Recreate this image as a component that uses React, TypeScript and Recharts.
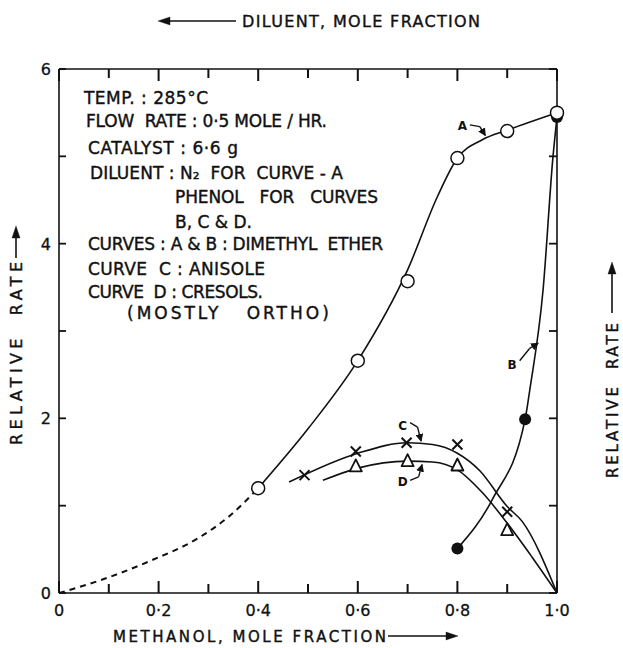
import React from "react";
import {
  ComposedChart,
  Line,
  Scatter,
  XAxis,
  YAxis,
  ReferenceLine,
  ReferenceDot,
} from "recharts";

// axes
const methanolTicks = [0, 0.1, 0.2, 0.3, 0.4, 0.5, 0.6, 0.7, 0.8, 0.9, 1.0];
const methanolLabels = ["0", "", "0·2", "", "0·4", "", "0·6", "", "0·8", "", "1·0"];
const diluentLabels = ["1·0", "", "0·8", "", "0·6", "", "0·4", "", "0·2", "", "0"];
const rateTicks = [0, 1, 2, 3, 4, 5, 6];
const rateLabels = ["0", "", "2", "", "4", "", "6"];

// curve A: dimethyl ether, N2 diluent (open circles)
const aPointX = [0.4, 0.6, 0.7, 0.8, 0.9, 1.0];
const aPointY = [1.2, 2.66, 3.57, 4.98, 5.29, 5.5];
const aLineX = [0.4, 0.5, 0.6, 0.7, 0.76, 0.8, 0.85, 0.9, 1.0];
const aLineY = [1.2, 1.88, 2.66, 3.7, 4.54, 4.98, 5.19, 5.3, 5.5];
const aDashX = [0, 0.08, 0.18, 0.28, 0.34, 0.4];
const aDashY = [0, 0.14, 0.36, 0.63, 0.87, 1.2];

// curve B: dimethyl ether, phenol diluent (filled circles)
const bPointX = [0.8, 0.936, 1.0];
const bPointY = [0.51, 1.99, 5.45];
const bLineX = [0.8, 0.87, 0.936, 0.946, 0.972, 0.992, 1.0];
const bLineY = [0.51, 1.07, 1.99, 2.35, 3.47, 5.0, 5.45];

// curve C: anisole (crosses)
const cPointX = [0.493, 0.596, 0.698, 0.8, 0.9];
const cPointY = [1.35, 1.62, 1.72, 1.7, 0.93];
const cLineX = [0.462, 0.6, 0.7, 0.75, 0.8, 0.845, 0.9, 0.93, 1.0];
const cLineY = [1.27, 1.6, 1.72, 1.7, 1.6, 1.4, 0.99, 0.82, 0];

// curve D: cresols (triangles)
const dPointX = [0.596, 0.7, 0.8, 0.9];
const dPointY = [1.45, 1.51, 1.46, 0.72];
const dLineX = [0.53, 0.6, 0.7, 0.75, 0.8, 0.85, 0.9, 0.95, 1.0];
const dLineY = [1.29, 1.43, 1.51, 1.5, 1.41, 1.15, 0.8, 0.41, 0];

// curve letters and their pointer arrows
const tagLetters = ["A", "B", "C", "D"];
const tagX = [0.81, 0.91, 0.69, 0.69];
const tagY = [5.35, 2.61, 1.92, 1.27];
const tagArrows = [
  [[0.825, 5.36], [0.845, 5.34], [0.856, 5.24]],
  [[0.925, 2.66], [0.945, 2.8], [0.962, 2.86]],
  [[0.705, 1.95], [0.72, 1.9], [0.727, 1.74]],
  [[0.705, 1.29], [0.722, 1.33], [0.729, 1.47]],
];

const zip = (xs: number[], ys: number[]) => xs.map((x, i) => ({ x, y: ys[i] }));

const FONT = "DejaVu Sans";
const INK = "#111";
// plot box (same as the chart margins + axis sizes)
const PLOT = { left: 59, right: 557, top: 69, bottom: 593 };
const PX_X = 1 / (PLOT.right - PLOT.left);
const PX_Y = 6 / (PLOT.bottom - PLOT.top);

const makeLabel =
  (labels: string[], anchor: "middle" | "start" | "end") => (props: any) => {
    const label = labels[props.index];
    if (!label) return <g />;
    return (
      <text
        x={props.x}
        y={props.y + 6}
        textAnchor={anchor}
        fontSize={16}
        fontFamily={FONT}
        fill={INK}
        stroke={INK}
        strokeWidth={0.3}
      >
        {label}
      </text>
    );
  };

const OpenCircle = (p: any) => (
  <circle cx={p.cx} cy={p.cy} r={6.5} fill="#fff" stroke={INK} strokeWidth={1.5} />
);
const FilledCircle = (p: any) => <circle cx={p.cx} cy={p.cy} r={6} fill={INK} />;
const CrossMark = (p: any) => (
  <g stroke={INK} strokeWidth={2}>
    <line x1={p.cx - 5} y1={p.cy - 5} x2={p.cx + 5} y2={p.cy + 5} />
    <line x1={p.cx - 5} y1={p.cy + 5} x2={p.cx + 5} y2={p.cy - 5} />
  </g>
);
const TriangleMark = (p: any) => (
  <polygon
    points={`${p.cx},${p.cy - 7} ${p.cx - 6},${p.cy + 5} ${p.cx + 6},${p.cy + 5}`}
    fill="#fff"
    stroke={INK}
    strokeWidth={1.8}
    strokeLinejoin="round"
  />
);

const noteLines = [
  { t: "TEMP. : 285°C", x: 84, y: 104, w: 124 },
  { t: "FLOW  RATE : 0·5 MOLE / HR.", x: 86, y: 127, w: 241 },
  { t: "CATALYST : 6·6 g", x: 88, y: 154, w: 150 },
  { t: "DILUENT : N₂  FOR  CURVE - A", x: 90, y: 179, w: 253 },
  { t: "PHENOL   FOR   CURVES", x: 175, y: 203, w: 203 },
  { t: "B, C & D.", x: 175, y: 228, w: 77 },
  { t: "CURVES : A & B : DIMETHYL  ETHER", x: 88, y: 250, w: 295 },
  { t: "CURVE  C : ANISOLE", x: 88, y: 275, w: 177 },
  { t: "CURVE  D : CRESOLS.", x: 88, y: 298, w: 175 },
  { t: "(MOSTLY   ORTHO)", x: 127, y: 319, w: 0 },
];

const pre = { whiteSpace: "pre" as const };

export default function App() {
  const line = (key: string, xs: number[], ys: number[], dash?: string) => (
    <Line
      key={key}
      xAxisId="bottom"
      yAxisId="left"
      data={zip(xs, ys)}
      dataKey="y"
      type="monotone"
      stroke={INK}
      strokeWidth={dash ? 2 : 1.6}
      strokeDasharray={dash}
      dot={false}
      activeDot={false}
      isAnimationActive={false}
    />
  );

  const seg = (key: string, x1: number, y1: number, x2: number, y2: number, extra: any = {}) => (
    <ReferenceLine
      key={key}
      xAxisId="bottom"
      yAxisId="left"
      segment={[
        { x: x1, y: y1 },
        { x: x2, y: y2 },
      ]}
      stroke={INK}
      strokeWidth={1.8}
      ifOverflow="visible"
      {...extra}
    />
  );

  // horizontal tick positions along the x axes, same linear map as the chart
  const tickPx = (v: number) => PLOT.left + v / PX_X;

  return (
    <div style={{ position: "relative", width: 623, height: 648, background: "#fff" }}>
      <style>{"body{margin:0}"}</style>
      <svg width={0} height={0} style={{ position: "absolute" }}>
        <defs>
          <marker
            id="tagHead"
            markerUnits="userSpaceOnUse"
            markerWidth={8}
            markerHeight={8}
            refX={7}
            refY={4}
            orient="auto"
          >
            <path d="M0,0 L8,4 L0,8 z" fill={INK} />
          </marker>
        </defs>
      </svg>
      <ComposedChart width={623} height={648} margin={{ top: 49, right: 36, bottom: 30, left: 29 }}>
        <XAxis
          xAxisId="bottom"
          type="number"
          dataKey="x"
          domain={[0, 1]}
          ticks={methanolTicks}
          interval={0}
          height={25}
          tickSize={0}
          tickMargin={17}
          tickLine={false}
          axisLine={{ stroke: INK, strokeWidth: 1.6 }}
          tick={makeLabel(methanolLabels, "middle")}
        />
        <XAxis
          xAxisId="top"
          orientation="top"
          type="number"
          dataKey="x"
          domain={[0, 1]}
          ticks={methanolTicks}
          interval={0}
          height={20}
          tickSize={0}
          tickMargin={14}
          tickLine={false}
          axisLine={{ stroke: INK, strokeWidth: 1.6 }}
          tick={makeLabel(diluentLabels, "middle")}
        />
        <YAxis
          yAxisId="left"
          type="number"
          dataKey="y"
          domain={[0, 6]}
          ticks={rateTicks}
          interval={0}
          width={30}
          tickSize={0}
          tickMargin={8}
          tickLine={false}
          axisLine={{ stroke: INK, strokeWidth: 1.6 }}
          tick={makeLabel(rateLabels, "end")}
        />
        <YAxis
          yAxisId="right"
          orientation="right"
          type="number"
          dataKey="y"
          domain={[0, 6]}
          ticks={rateTicks}
          interval={0}
          width={30}
          tickSize={0}
          tickMargin={10}
          tickLine={false}
          axisLine={{ stroke: INK, strokeWidth: 1.6 }}
          tick={makeLabel(rateLabels, "start")}
        />

        {/* inward side ticks */}
        {rateTicks.map((v, i) => seg(`tl${i}`, 0, v, 7 * PX_X, v))}
        {rateTicks.map((v, i) => seg(`tr${i}`, 1, v, 1 - 8 * PX_X, v))}

        {line("aDash", aDashX, aDashY, "6 5")}
        {line("aLine", aLineX, aLineY)}
        {line("bLine", bLineX, bLineY)}
        {line("cLine", cLineX, cLineY)}
        {line("dLine", dLineX, dLineY)}

        <Scatter xAxisId="bottom" yAxisId="left" data={zip(cPointX, cPointY)} shape={CrossMark} isAnimationActive={false} />
        <Scatter xAxisId="bottom" yAxisId="left" data={zip(dPointX, dPointY)} shape={TriangleMark} isAnimationActive={false} />
        <Scatter xAxisId="bottom" yAxisId="left" data={zip(bPointX, bPointY)} shape={FilledCircle} isAnimationActive={false} />
        <Scatter xAxisId="bottom" yAxisId="left" data={zip(aPointX, aPointY)} shape={OpenCircle} isAnimationActive={false} />

        {tagArrows.map((pts, i) =>
          pts.slice(1).map((p, j) =>
            seg(`arr${i}-${j}`, pts[j][0], pts[j][1], p[0], p[1], {
              strokeWidth: 1.4,
              markerEnd: j === pts.length - 2 ? "url(#tagHead)" : undefined,
            })
          )
        )}
        {tagLetters.map((t, i) => (
          <ReferenceDot
            key={`tag${t}`}
            xAxisId="bottom"
            yAxisId="left"
            x={tagX[i]}
            y={tagY[i]}
            r={1}
            fill="none"
            stroke="none"
            label={{
              value: t,
              position: "center",
              fill: INK,
              fontSize: 12,
              fontWeight: 700,
              fontFamily: FONT,
            }}
          />
        ))}
      </ComposedChart>

      <svg
        width={623}
        height={648}
        style={{ position: "absolute", left: 0, top: 0, pointerEvents: "none" }}
        fontFamily={FONT}
        fill={INK}
      >
        {/* inward ticks on the bottom and top axes */}
        <g stroke={INK} strokeWidth={2}>
          {methanolTicks.map((v, i) => (
            <line
              key={`b${i}`}
              x1={tickPx(v)}
              y1={PLOT.bottom}
              x2={tickPx(v)}
              y2={PLOT.bottom - (methanolLabels[i] ? 12 : 9)}
            />
          ))}
          {methanolTicks.map((v, i) => (
            <line
              key={`t${i}`}
              x1={tickPx(v)}
              y1={PLOT.top}
              x2={tickPx(v)}
              y2={PLOT.top + (diluentLabels[i] ? 12 : 9)}
            />
          ))}
        </g>

        <g stroke={INK} strokeWidth={0.4}>
          {/* top title */}
          <line x1={166} y1={21} x2={236} y2={21} stroke={INK} strokeWidth={1.6} />
          <polygon points="158,21 170,17 170,25" fill={INK} />
          <text x={242} y={27} fontSize={16} textLength={238} lengthAdjust="spacing">
            DILUENT, MOLE FRACTION
          </text>

          {/* bottom title */}
          <text x={113} y={642} fontSize={15} textLength={273} lengthAdjust="spacing">
            METHANOL, MOLE FRACTION
          </text>
          <line x1={388} y1={636} x2={448} y2={636} stroke={INK} strokeWidth={1.6} />
          <polygon points="458,636 446,632 446,640" fill={INK} />

          {/* left title */}
          <g transform="translate(22,445) rotate(-90)">
            <text x={0} y={0} fontSize={16} textLength={183} lengthAdjust="spacing" style={pre}>
              RELATIVE  RATE
            </text>
          </g>
          <line x1={16} y1={258} x2={16} y2={236} stroke={INK} strokeWidth={1.6} />
          <polygon points="16,226 12,238 20,238" fill={INK} />

          {/* right title */}
          <g transform="translate(618,478) rotate(-90)">
            <text x={0} y={0} fontSize={15} textLength={155} lengthAdjust="spacing" style={pre}>
              RELATIVE  RATE
            </text>
          </g>
          <line x1={612} y1={313} x2={612} y2={272} stroke={INK} strokeWidth={1.6} />
          <polygon points="612,262 608,274 616,274" fill={INK} />

          {/* conditions block */}
          {noteLines.map((n) =>
            n.w ? (
              <text
                key={n.t}
                x={n.x}
                y={n.y}
                fontSize={17}
                textLength={n.w}
                lengthAdjust="spacing"
                style={pre}
              >
                {n.t}
              </text>
            ) : (
              <text key={n.t} x={n.x} y={n.y} fontSize={17} letterSpacing={3} style={pre}>
                {n.t}
              </text>
            )
          )}
        </g>
      </svg>
    </div>
  );
}
